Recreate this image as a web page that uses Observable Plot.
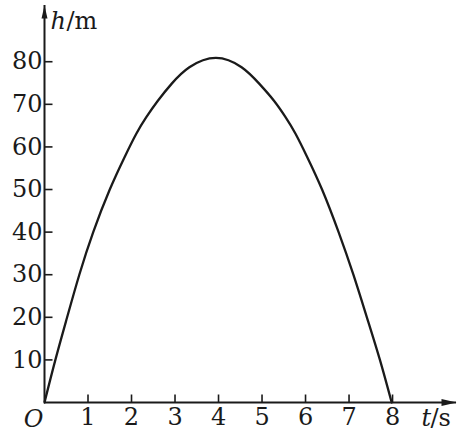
<!DOCTYPE html>
<html>
<head>
<meta charset="utf-8">
<script src="https://cdn.jsdelivr.net/npm/d3@7"></script>
<script src="https://cdn.jsdelivr.net/npm/@observablehq/plot@0.6"></script>
<style>
  html, body { margin: 0; padding: 0; background: #fff; }
  #chart svg { display: block; }
</style>
</head>
<body>
<div id="chart"></div>
<script>
// Data
const tValues = [0, 0.25, 0.52, 0.80, 1.12, 1.50, 1.84, 2.11, 2.34, 2.61, 2.92, 3.33, 3.94, 4.53, 4.94, 5.27, 5.54, 5.77, 6.04, 6.38, 6.76, 7.10, 7.41, 7.71, 7.98];
const hValues = [0, 10, 20, 30, 40, 50, 57.6, 63.1, 67, 70.9, 74.8, 78.7, 80.9, 78.7, 74.8, 70.9, 67, 63.1, 57.6, 50, 40, 30, 20, 10, 0];
const xTicks = [1, 2, 3, 4, 5, 6, 7, 8];
const yTicks = [10, 20, 30, 40, 50, 60, 70, 80];
const xMax = 9.47;
const yMax = 93.2;

const data = tValues.map((t, i) => ({t, h: hValues[i]}));

const ink = "#1a1a1a";
const font = "DejaVu Serif, Liberation Serif, serif";
const fs = 24;

// custom symbols
const arrowRight = {draw(ctx) { ctx.moveTo(0, 0); ctx.lineTo(-15, -3.6); ctx.lineTo(-15, 3.6); ctx.closePath(); }};
const arrowUp = {draw(ctx) { ctx.moveTo(0, 0); ctx.lineTo(-3, 13); ctx.lineTo(3, 13); ctx.closePath(); }};
const tickUp = {draw(ctx) { ctx.moveTo(0, 0); ctx.lineTo(0, -8); }};
const tickRight = {draw(ctx) { ctx.moveTo(0, 0); ctx.lineTo(8, 0); }};

const chart = Plot.plot({
  width: 459,
  height: 431,
  marginLeft: 44,
  marginRight: 3,
  marginTop: 5,
  marginBottom: 29,
  x: {domain: [0, xMax], axis: null},
  y: {domain: [0, yMax], axis: null},
  style: {fontFamily: font, background: "#fff"},
  marks: [
    // axes lines
    Plot.ruleY([0], {x1: 0, x2: xMax, stroke: ink, strokeWidth: 2}),
    Plot.ruleX([0], {y1: 0, y2: yMax, stroke: ink, strokeWidth: 2}),
    Plot.dot([{x: xMax, y: 0}], {x: "x", y: "y", symbol: arrowRight, fill: ink, stroke: "none"}),
    Plot.dot([{x: 0, y: yMax}], {x: "x", y: "y", symbol: arrowUp, fill: ink, stroke: "none"}),
    // ticks
    Plot.dot(xTicks, {x: d => d, y: () => 0, symbol: tickUp, fill: "none", stroke: ink, strokeWidth: 1.6}),
    Plot.dot(yTicks, {x: () => 0, y: d => d, symbol: tickRight, fill: "none", stroke: ink, strokeWidth: 1.6}),
    // tick labels
    Plot.text(xTicks, {x: d => d, y: () => 0, text: d => String(d), dy: 5, lineAnchor: "top", textAnchor: "middle", fontSize: fs, fill: ink}),
    Plot.text(yTicks, {x: () => 0, y: d => d, text: d => String(d), dx: -2, textAnchor: "end", lineAnchor: "middle", fontSize: fs, fill: ink}),
    // origin label
    Plot.text(["O"], {x: () => 0, y: () => 0, text: d => d, dx: -1, dy: 24, textAnchor: "end", lineAnchor: "bottom", fontSize: fs, fontStyle: "italic", fill: ink}),
    // axis titles
    Plot.text(["h"], {x: () => 0, y: () => yMax, text: d => d, dx: 6, dy: 23, textAnchor: "start", lineAnchor: "bottom", fontSize: fs, fontStyle: "italic", fill: ink}),
    Plot.text(["/m"], {x: () => 0, y: () => yMax, text: d => d, dx: 22, dy: 23, textAnchor: "start", lineAnchor: "bottom", fontSize: fs, fill: ink}),
    Plot.text(["t"], {x: () => xMax, y: () => 0, text: d => d, dx: -35, dy: 23, textAnchor: "start", lineAnchor: "bottom", fontSize: fs, fontStyle: "italic", fill: ink}),
    Plot.text(["/s"], {x: () => xMax, y: () => 0, text: d => d, dx: -26, dy: 23, textAnchor: "start", lineAnchor: "bottom", fontSize: fs, fill: ink}),
    // curve
    Plot.line(data, {x: "t", y: "h", curve: "natural", stroke: ink, strokeWidth: 2.3})
  ]
});
document.getElementById("chart").appendChild(chart);
</script>
</body>
</html>
